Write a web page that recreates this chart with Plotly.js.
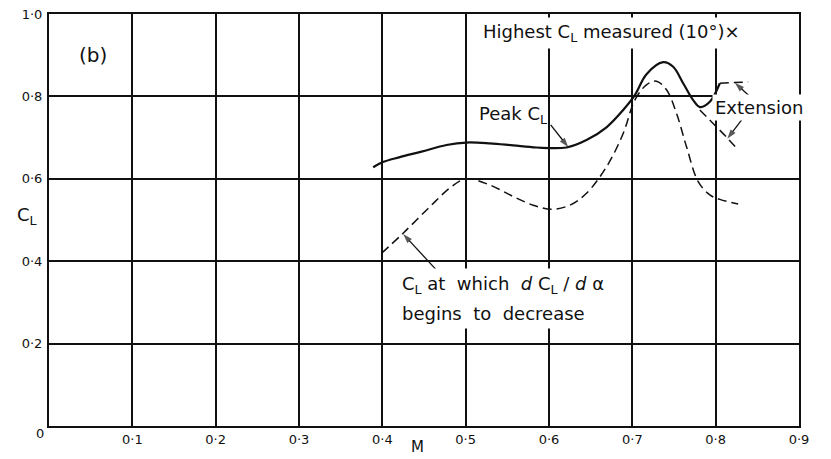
<!DOCTYPE html>
<html>
<head>
<meta charset="utf-8">
<script src="https://cdn.plot.ly/plotly-3.0.1.min.js"></script>
<style>
  html, body { margin: 0; padding: 0; background: #ffffff; }
  #chart { width: 831px; height: 459px; }
</style>
</head>
<body>
<div id="chart"></div>
<script>
// Peak lift coefficient against Mach number
const peakM  = [0.389, 0.400, 0.420, 0.447, 0.477, 0.501, 0.529, 0.557, 0.585, 0.621, 0.645, 0.669, 0.689, 0.703, 0.717, 0.737, 0.749, 0.761, 0.773, 0.781, 0.793, 0.805];
const peakCL = [0.628, 0.640, 0.652, 0.666, 0.682, 0.688, 0.686, 0.681, 0.676, 0.676, 0.694, 0.725, 0.767, 0.803, 0.854, 0.883, 0.872, 0.832, 0.791, 0.774, 0.787, 0.832];

// C_L at which dC_L/dalpha begins to decrease
const breakM  = [0.399, 0.425, 0.455, 0.483, 0.501, 0.529, 0.557, 0.581, 0.603, 0.625, 0.645, 0.669, 0.689, 0.703, 0.717, 0.729, 0.741, 0.753, 0.765, 0.779, 0.793, 0.805, 0.827];
const breakCL = [0.419, 0.468, 0.528, 0.581, 0.600, 0.585, 0.557, 0.536, 0.526, 0.536, 0.565, 0.629, 0.710, 0.791, 0.828, 0.837, 0.816, 0.759, 0.678, 0.593, 0.561, 0.550, 0.539];

// Dashed extensions of the peak curve beyond M = 0.78
const extUpperM  = [0.805, 0.839];
const extUpperCL = [0.832, 0.835];
const extLowerM  = [0.781, 0.814, 0.827];
const extLowerCL = [0.767, 0.699, 0.670];

// Leader lines: [tail M, tip M], [tail CL, tip CL]
const leaderPeakM   = [0.602, 0.623];
const leaderPeakCL  = [0.731, 0.677];
const leaderBreakM  = [0.467, 0.425];
const leaderBreakCL = [0.374, 0.466];
const leaderExtUpM  = [0.841, 0.823];
const leaderExtUpCL = [0.800, 0.833];
const leaderExtLoM  = [0.833, 0.814];
const leaderExtLoCL = [0.748, 0.697];

// Axis ticks
const xTicks = [0.1, 0.2, 0.3, 0.4, 0.5, 0.6, 0.7, 0.8, 0.9];
const xTickText = ['0·1', '0·2', '0·3', '0·4', '0·5', '0·6', '0·7', '0·8', '0·9'];
const yTicks = [0.2, 0.4, 0.6, 0.8, 1.0];
const yTickText = ['0·2', '0·4', '0·6', '0·8', '1·0'];

const FONT = 'DejaVu Sans, Liberation Sans, sans-serif';
const INK = '#111111';
const DASH = '9px,5px';

function leader(xs, ys) {
  return {
    x: xs, y: ys, mode: 'lines+markers', hoverinfo: 'skip',
    line: { color: INK, width: 1.3 },
    marker: { symbol: ['circle', 'arrow'], size: [0, 10], color: INK, angleref: 'previous',
              line: { width: 0 } }
  };
}

const traces = [
  { x: peakM, y: peakCL, mode: 'lines', line: { color: INK, width: 2.2, shape: 'spline', smoothing: 1 }, hoverinfo: 'skip' },
  { x: breakM, y: breakCL, mode: 'lines', line: { color: INK, width: 1.5, dash: DASH, shape: 'spline', smoothing: 1 }, hoverinfo: 'skip' },
  { x: extUpperM, y: extUpperCL, mode: 'lines', line: { color: INK, width: 1.5, dash: DASH }, hoverinfo: 'skip' },
  { x: extLowerM, y: extLowerCL, mode: 'lines', line: { color: INK, width: 1.5, dash: DASH, shape: 'spline' }, hoverinfo: 'skip' },
  leader(leaderPeakM, leaderPeakCL),
  leader(leaderBreakM, leaderBreakCL),
  leader(leaderExtUpM, leaderExtUpCL),
  leader(leaderExtLoM, leaderExtLoCL)
];

function label(text, x, y, size, opts) {
  return Object.assign({
    text: text, x: x, y: y, xref: 'x', yref: 'y',
    showarrow: false, xanchor: 'left', yanchor: 'middle',
    font: { family: FONT, size: size, color: INK }
  }, opts || {});
}

const annotations = [
  label('(b)', 0.053, 0.900, 20, { xanchor: 'center' }),
  label('Highest C<sub>L</sub> measured (10°)×', 0.516, 0.954, 18, { bgcolor: '#ffffff', borderpad: 3 }),
  label('Peak C<sub>L</sub>', 0.513, 0.755, 18),
  label('Extension', 0.795, 0.772, 18, { bgcolor: '#ffffff', borderpad: 2 }),
  label('C<sub>L</sub> at  which  <i>d</i> C<sub>L</sub> / <i>d</i> α', 0.417, 0.342, 18, { bgcolor: '#ffffff', borderpad: 4 }),
  label('begins  to  decrease', 0.417, 0.274, 18, { bgcolor: '#ffffff', borderpad: 4 }),
  // axis names and origin label
  { text: 'C<sub>L</sub>', xref: 'paper', yref: 'paper', x: -0.03, y: 0.51, showarrow: false,
    xanchor: 'center', yanchor: 'middle', font: { family: FONT, size: 18, color: INK } },
  { text: 'M', xref: 'paper', yref: 'paper', x: 0.491, y: -0.052, showarrow: false,
    xanchor: 'center', yanchor: 'middle', font: { family: FONT, size: 15, color: INK } },
  { text: '0', xref: 'paper', yref: 'paper', x: -0.012, y: -0.017, showarrow: false,
    xanchor: 'center', yanchor: 'middle', font: { family: FONT, size: 13, color: INK } }
];

const axisCommon = {
  showgrid: true, gridcolor: INK, gridwidth: 2,
  showline: true, mirror: true, linecolor: INK, linewidth: 2,
  zeroline: false, ticks: '', fixedrange: true,
  tickfont: { family: FONT, size: 13, color: INK }
};

const layout = {
  width: 831, height: 459,
  margin: { l: 49, r: 32, t: 14, b: 33 },
  paper_bgcolor: '#ffffff', plot_bgcolor: '#ffffff',
  showlegend: false,
  xaxis: Object.assign({}, axisCommon, { range: [0, 0.9], tickmode: 'array', tickvals: xTicks, ticktext: xTickText }),
  yaxis: Object.assign({}, axisCommon, { range: [0, 1], tickmode: 'array', tickvals: yTicks, ticktext: yTickText, ticklabelstandoff: 2 }),
  annotations: annotations
};

Plotly.newPlot('chart', traces, layout, { staticPlot: true, displayModeBar: false });
</script>
</body>
</html>
